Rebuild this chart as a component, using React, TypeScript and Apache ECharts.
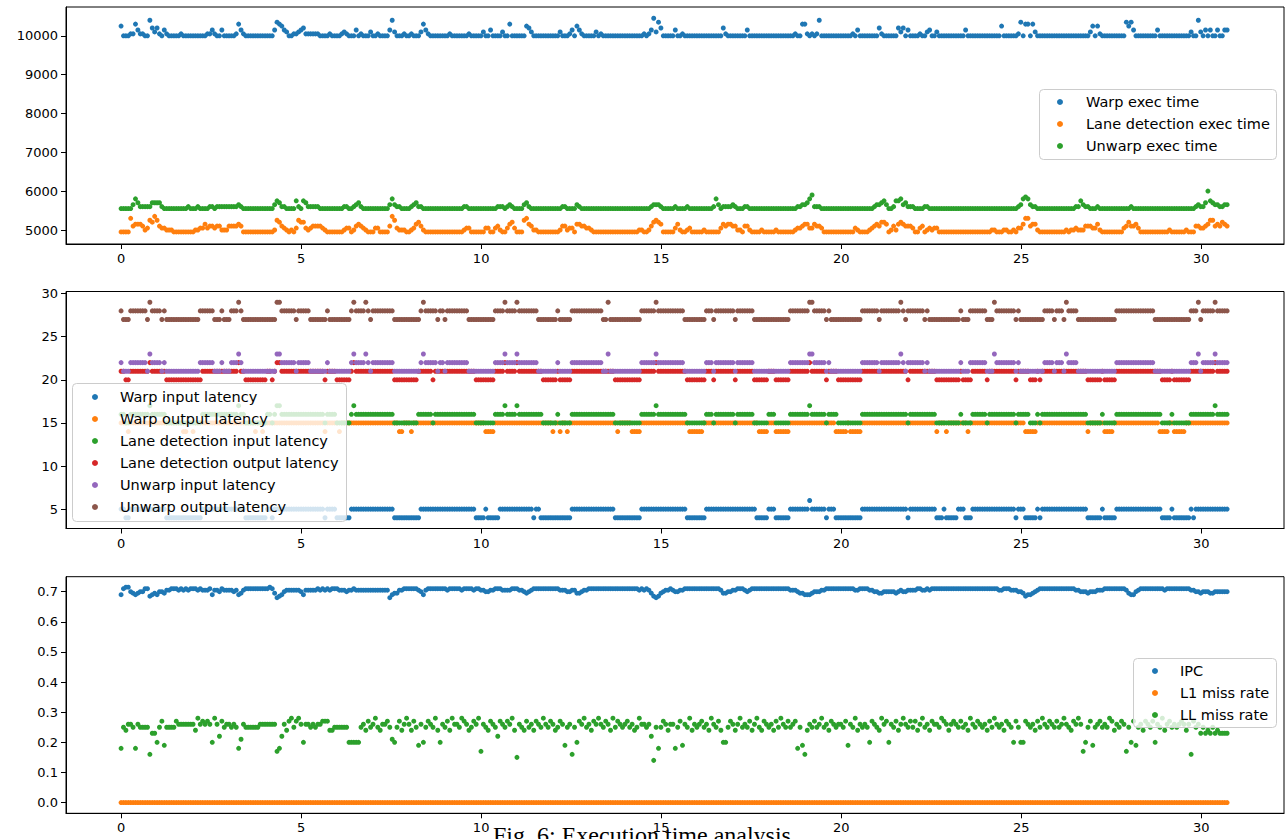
import React, { useEffect, useRef } from "react";
import * as echarts from "echarts";

// ---------- data ----------
// sample spacing along the x axis (one frame)
const FRAME_STEP = 30.72 / 461;

const X_TICKS = [0, 5, 10, 15, 20, 25, 30];
const EXEC_TICKS = [5000, 6000, 7000, 8000, 9000, 10000];
const LATENCY_TICKS = [5, 10, 15, 20, 25, 30];
const RATE_TICKS = [0, 0.1, 0.2, 0.3, 0.4, 0.5, 0.6, 0.7];

const EXEC_NAMES = ["Warp exec time", "Lane detection exec time", "Unwarp exec time"];
const LATENCY_NAMES = [
  "Warp input latency",
  "Warp output latency",
  "Lane detection input latency",
  "Lane detection output latency",
  "Unwarp input latency",
  "Unwarp output latency",
];
const RATE_NAMES = ["IPC", "L1 miss rate", "LL miss rate"];
const CAPTION = "Fig. 6: Execution time analysis";

// Exec times: one hex digit per frame, value = base + 50 * digit
const WARP_EXEC_CODE = [
  "5000116311", "0084241031", "0000010000", "0000001131", "0030000016", "3100000000", "0000376532", "0011234111",
  "1110000100", "0012100030", "1000200100", "0038200010", "0100026310", "0000000100", "0000010000", "0200300002",
  "0060000005", "4200000000", "0002000130", "5310000020", "1000000000", "0000000010", "1392740000", "0300100000",
  "0000000000", "0410000000", "0300000000", "0000000000", "0100661010", "1800000000", "0000010300", "0000004100",
  "0000424030", "0001002300", "2000000000", "0030000000", "0000000500", "0000170660", "6200000000", "0000000000",
  "0000250510", "0000000007", "5730000000", "0030000000", "0000002008", "2030300300", "33",
];
const LANE_EXEC_CODE = [
  "0000734443", "1265863221", "1100000000", "0112242332", "3311133334", "3000000000", "0000165321", "0102655212",
  "3333210000", "0001220134", "3210002200", "0038621110", "0124531000", "0000000000", "0001220000", "0022002310",
  "0245200067", "4311000000", "0001331220", "4433221000", "0000000000", "0000001100", "1356540000", "0241001200",
  "0001000000", "2434433110", "3310000100", "0001000000", "0122344224", "3320000000", "0000002100", "0012343554",
  "0131454333", "2002301212", "2000000000", "0000000000", "0001100011", "0010224773", "4410000000", "0000101121",
  "1133322410", "0000000023", "5334200000", "0000000100", "0000100033", "2234663435", "43",
];
const UNWARP_EXEC_CODE = [
  "0000025311", "1113333100", "0000000010", "0010000110", "1111111112", "1000000000", "0000243110", "0004104311",
  "1110000000", "0001100123", "1000000000", "0025211000", "0123110000", "0000000000", "0001100000", "0000000111",
  "0121000023", "1000000000", "0000110000", "2100000000", "0000000000", "0000000000", "0122210000", "0100001000",
  "0000000152", "0111121000", "1100000000", "0000000000", "0011223571", "1100000000", "0000000000", "0000122342",
  "0014452311", "1000011000", "0000000000", "0000000000", "0000000000", "0000125652", "1100000000", "0000000011",
  "4211000100", "0000000000", "0100000000", "0000000000", "0000000012", "1139432211", "22",
];

// Latencies: [value, number of consecutive frames]
const WARP_IN_RUNS = [
  [5, 2], [4, 2], [5, 15], [4, 15], [5, 18], [4, 9], [5, 2], [4, 1], [5, 21], [4, 1], [5, 4], [4, 6], [5, 18], [4, 11],
  [5, 23], [4, 4], [5, 1], [4, 5], [5, 14], [4, 1], [5, 2], [4, 13], [5, 18], [4, 11], [5, 19], [4, 8], [5, 21], [4, 5],
  [5, 3], [4, 6], [5, 8], [6, 1], [5, 6], [4, 1], [5, 3], [4, 11], [5, 19], [4, 1], [5, 11], [4, 3], [5, 1], [4, 5],
  [5, 3], [4, 3], [5, 18], [4, 1], [5, 3], [4, 5], [5, 1], [4, 1], [5, 19], [4, 6], [5, 1], [4, 5], [5, 19], [4, 4],
  [5, 1], [4, 7], [5, 1], [4, 1], [5, 14],
];
const WARP_OUT_RUNS = [
  [15, 3], [14, 1], [15, 22], [14, 2], [15, 2], [14, 1], [15, 25], [14, 1], [15, 2], [14, 1], [15, 25], [14, 1], [15, 5],
  [14, 1], [15, 24], [14, 2], [15, 3], [14, 1], [15, 30], [14, 4], [15, 24], [14, 1], [15, 2], [14, 1], [15, 2], [14, 1],
  [15, 20], [14, 1], [15, 5], [14, 4], [15, 20], [14, 6], [15, 23], [14, 4], [15, 3], [14, 6], [15, 19], [14, 5], [15, 1],
  [14, 5], [15, 31], [14, 1], [15, 3], [14, 1], [15, 8], [14, 1], [15, 23], [14, 5], [15, 21], [14, 1], [15, 6], [14, 4],
  [15, 19], [14, 4], [15, 2], [14, 5], [15, 18],
];
const LANE_IN_RUNS = [
  [16, 2], [15, 2], [16, 8], [17, 1], [16, 6], [15, 15], [16, 15], [17, 1], [16, 2], [15, 9], [16, 2], [15, 1], [16, 1],
  [17, 2], [16, 18], [15, 1], [16, 4], [15, 6], [16, 1], [17, 1], [16, 16], [15, 10], [16, 6], [15, 1], [16, 17], [15, 8],
  [16, 4], [17, 1], [16, 4], [17, 1], [16, 10], [15, 6], [16, 1], [15, 5], [16, 18], [15, 11], [16, 6], [17, 1], [16, 12],
  [15, 8], [16, 3], [15, 1], [16, 8], [15, 1], [16, 7], [15, 6], [16, 3], [15, 6], [16, 8], [17, 1], [16, 6], [15, 1],
  [16, 4], [15, 10], [16, 19], [15, 1], [16, 11], [15, 10], [16, 1], [15, 4], [16, 6], [15, 1], [16, 11], [15, 1], [16, 5],
  [15, 3], [16, 1], [15, 1], [16, 19], [15, 6], [16, 1], [15, 5], [16, 19], [15, 4], [16, 1], [15, 7], [16, 10], [17, 1],
  [16, 5],
];
const LANE_OUT_RUNS = [
  [21, 2], [20, 2], [21, 8], [22, 1], [21, 6], [20, 15], [21, 15], [22, 1], [21, 2], [20, 9], [21, 2], [20, 1], [21, 1],
  [22, 2], [21, 18], [20, 1], [21, 4], [20, 6], [21, 1], [22, 1], [21, 16], [20, 10], [21, 6], [20, 1], [21, 17], [20, 8],
  [21, 4], [22, 1], [21, 4], [22, 1], [21, 10], [20, 6], [21, 1], [20, 5], [21, 18], [20, 11], [21, 6], [22, 1], [21, 12],
  [20, 8], [21, 3], [20, 1], [21, 8], [20, 1], [21, 7], [20, 6], [21, 3], [20, 6], [21, 8], [22, 1], [21, 6], [20, 1],
  [21, 4], [20, 10], [21, 19], [20, 1], [21, 11], [20, 10], [21, 1], [20, 4], [21, 6], [20, 1], [21, 11], [20, 1], [21, 5],
  [20, 3], [21, 1], [20, 1], [21, 19], [20, 6], [21, 1], [20, 5], [21, 19], [20, 4], [21, 1], [20, 7], [21, 10], [22, 1],
  [21, 5],
];
const UNWARP_IN_RUNS = [
  [22, 1], [21, 3], [22, 7], [21, 1], [23, 1], [22, 4], [21, 1], [22, 1], [21, 14], [22, 6], [21, 3], [22, 1], [21, 3],
  [22, 3], [23, 1], [22, 1], [21, 14], [23, 2], [22, 6], [21, 1], [22, 5], [21, 7], [22, 1], [21, 9], [22, 1], [23, 1],
  [22, 4], [23, 1], [22, 1], [21, 1], [22, 9], [21, 11], [22, 1], [23, 1], [22, 5], [21, 1], [22, 2], [21, 1], [22, 9],
  [21, 11], [22, 4], [23, 1], [22, 4], [23, 1], [22, 8], [21, 8], [22, 1], [21, 5], [22, 13], [21, 2], [23, 1], [21, 13],
  [22, 6], [23, 1], [22, 11], [21, 9], [22, 3], [21, 1], [22, 8], [21, 1], [22, 7], [21, 15], [22, 8], [23, 2], [22, 5],
  [21, 1], [22, 1], [21, 13], [22, 7], [21, 1], [22, 8], [23, 1], [22, 1], [21, 1], [22, 7], [21, 1], [22, 1], [21, 13],
  [22, 1], [21, 3], [22, 7], [21, 3], [23, 1], [22, 8], [21, 1], [22, 1], [21, 10], [22, 4], [21, 1], [22, 3], [21, 1],
  [23, 1], [22, 4], [21, 16], [22, 16], [21, 15], [22, 3], [23, 1], [21, 1], [22, 5], [23, 1], [22, 5],
];
const UNWARP_OUT_RUNS = [
  [28, 1], [27, 3], [28, 7], [27, 1], [29, 1], [28, 4], [27, 1], [28, 1], [27, 14], [28, 6], [27, 3], [28, 1], [27, 3],
  [28, 3], [29, 1], [28, 1], [27, 14], [29, 2], [28, 6], [27, 1], [28, 5], [27, 7], [28, 1], [27, 9], [28, 1], [29, 1],
  [28, 4], [29, 1], [28, 1], [27, 1], [28, 9], [27, 11], [28, 1], [29, 1], [28, 5], [27, 1], [28, 2], [27, 1], [28, 9],
  [27, 11], [28, 4], [29, 1], [28, 4], [29, 1], [28, 8], [27, 8], [28, 1], [27, 5], [28, 13], [27, 2], [29, 1], [27, 13],
  [28, 6], [29, 1], [28, 11], [27, 9], [28, 3], [27, 1], [28, 8], [27, 1], [28, 7], [27, 15], [28, 8], [29, 2], [28, 5],
  [27, 1], [28, 1], [27, 13], [28, 7], [27, 1], [28, 8], [29, 1], [28, 1], [27, 1], [28, 7], [27, 1], [28, 1], [27, 13],
  [28, 1], [27, 3], [28, 7], [27, 3], [29, 1], [28, 8], [27, 1], [28, 1], [27, 10], [28, 4], [27, 1], [28, 3], [27, 1],
  [29, 1], [28, 4], [27, 16], [28, 16], [27, 15], [28, 3], [29, 1], [27, 1], [28, 5], [29, 1], [28, 5],
];

// IPC: value = 0.67 + 0.005 * digit
const IPC_CODE = [
  "4899654566", "8834546657", "7888787878", "8878777847", "7687777674", "5788888888", "8898523467", "7777764777",
  "7787878788", "8777677877", "7777777777", "7724557788", "8888764788", "8888887888", "8878888788", "7766778887",
  "7778887765", "6788888888", "8887776677", "5567788888", "8888888888", "8888887878", "7532356778", "7667788888",
  "8888888888", "7556677888", "7678888888", "8888888887", "7765544456", "6677888888", "8888887788", "8877665566",
  "6665676677", "7788778788", "8888888888", "8888888888", "8888887788", "8777665344", "5678888888", "8888888877",
  "6665666777", "8888888887", "5446788888", "8888878888", "8888887766", "5666556666", "66",
];
// L1 miss rate: [value, frames]
const L1_MISS_RUNS = [[0, 462]];
// LL miss rate: value = 0.14 + 0.01 * hexdigit
const LL_MISS_CODE = [
  "4baccb4cbb", "bb2996bd5b", "bbbdcccccc", "caecdcdc6e", "c8dbccbcb4", "7cbbbbbbcc", "ccccc348ca", "debdec6ccb",
  "cbccdddaab", "bbbbb66666", "bcadbcebac", "cdb76bdace", "cadb5c6bdc", "bea6cbdaec", "cbedcabdce", "3cbadcb8dc",
  "bdcea1cbad", "bcadcbecbd", "cabdc5bc2b", "6dcebcadce", "cbdcaebdcb", "cdbcabeccb", "c80b4bdcac", "c4bd5cbeac",
  "bcdbcaecbd", "a66bdcaceb", "cbdacebadc", "bcadbecbdb", "cd4b52acbd", "bcebcadcbc", "cbd5cbeacb", "cb6dcbaecd",
  "6cbdacecbd", "bdacebcadc", "cbedcacdcb", "dbcaecbdcb", "cadbecbcad", "cb6db66dcb", "cadbecbdcb", "dbcecbadce",
  "c36bd5bcdb", "cbedacbdc3", "b6d5bcadcb", "d6cbeacdbc", "bcdcac2dbc", "9b9a9b9a99", "99",
];

// ---------- decoding helpers ----------
const fromCode = (chunks: string[], base: number, step: number) =>
  chunks.join("").split("").map((ch) => +(base + step * parseInt(ch, 16)).toFixed(4));
const fromRuns = (r: number[][]) => r.flatMap(([v, n]) => Array.from({ length: n }, () => v));
const toPoints = (vals: number[]) => vals.map((v, i) => [i * FRAME_STEP, v]);

const COLORS = ["#1f77b4", "#ff7f0e", "#2ca02c", "#d62728", "#9467bd", "#8c564b"];
const FONT = "DejaVu Sans";

// legend box drawn as graphic (box x, y, width, height, marker x, text x, first row y)
const legendBox = (names: string[], x: number, y: number, w: number, h: number, mx: number, tx: number, ry: number) => ({
  type: "group",
  x,
  y,
  z: 50,
  silent: true,
  children: [
    {
      type: "rect",
      z: 50,
      shape: { x: 0.5, y: 0.5, width: w, height: h, r: 4 },
      style: { fill: "rgba(255,255,255,0.8)", stroke: "#cccccc", lineWidth: 1 },
    },
    ...names.map((_, k) => ({
      type: "circle",
      z: 51,
      shape: { cx: mx, cy: ry + 22 * k, r: 3 },
      style: { fill: COLORS[k] },
    })),
    ...names.map((n, k) => ({
      type: "text",
      z: 51,
      x: tx,
      y: ry + 22 * k,
      style: { text: n, font: `14.5px "${FONT}"`, fill: "#000", align: "left", verticalAlign: "middle" },
    })),
  ],
});

export default function App() {
  const ref = useRef<HTMLDivElement>(null);

  useEffect(() => {
    if (!ref.current) return;
    const chart = echarts.init(ref.current, undefined, { renderer: "svg" });

    const execSeries = [
      fromCode(WARP_EXEC_CODE, 10000, 50),
      fromCode(LANE_EXEC_CODE, 4960, 50),
      fromCode(UNWARP_EXEC_CODE, 5560, 50),
    ];
    const latencySeries = [
      fromRuns(WARP_IN_RUNS),
      fromRuns(WARP_OUT_RUNS),
      fromRuns(LANE_IN_RUNS),
      fromRuns(LANE_OUT_RUNS),
      fromRuns(UNWARP_IN_RUNS),
      fromRuns(UNWARP_OUT_RUNS),
    ];
    const rateSeries = [fromCode(IPC_CODE, 0.67, 0.005), fromRuns(L1_MISS_RUNS), fromCode(LL_MISS_CODE, 0.14, 0.01)];

    const grids = [
      { left: 66, top: 7, width: 1218, height: 237 },
      { left: 66, top: 291.5, width: 1218, height: 237 },
      { left: 66, top: 576.7, width: 1218, height: 236.6 },
    ].map((g) => ({ ...g, show: true, borderColor: "#000", borderWidth: 1, backgroundColor: "transparent" }));

    const xAxis = [0, 1, 2].map((gi) => ({
      type: "value",
      gridIndex: gi,
      min: -1.53,
      max: 32.3,
      axisLine: { show: true, onZero: false, lineStyle: { color: "#000", width: 1 } },
      axisTick: { show: true, length: 5, lineStyle: { color: "#000", width: 1 }, customValues: X_TICKS },
      axisLabel: {
        customValues: X_TICKS,
        color: "#000",
        fontSize: 13,
        fontFamily: FONT,
        margin: 8,
        formatter: (v: number) => String(v),
      },
      splitLine: { show: false },
    }));

    const yDefs = [
      { min: 4650, max: 10740, ticks: EXEC_TICKS, fmt: (v: number) => String(v) },
      { min: 2.75, max: 30.25, ticks: LATENCY_TICKS, fmt: (v: number) => String(v) },
      { min: -0.0357, max: 0.7497, ticks: RATE_TICKS, fmt: (v: number) => v.toFixed(1) },
    ];
    const yAxis = yDefs.map((d, gi) => ({
      type: "value",
      gridIndex: gi,
      min: d.min,
      max: d.max,
      axisLine: { show: true, onZero: false, lineStyle: { color: "#000", width: 1 } },
      axisTick: { show: true, length: 5, lineStyle: { color: "#000", width: 1 }, customValues: d.ticks },
      axisLabel: { customValues: d.ticks, color: "#000", fontSize: 13, fontFamily: FONT, margin: 8, formatter: d.fmt },
      splitLine: { show: false },
    }));

    const mk = (name: string, vals: number[], color: string, gi: number) => ({
      type: "scatter",
      name,
      xAxisIndex: gi,
      yAxisIndex: gi,
      data: toPoints(vals),
      symbol: "circle",
      symbolSize: 5,
      itemStyle: { color, opacity: 1 },
      emphasis: { disabled: true },
      silent: true,
    });

    const series = [
      ...EXEC_NAMES.map((n, k) => mk(n, execSeries[k], COLORS[k], 0)),
      ...LATENCY_NAMES.map((n, k) => mk(n, latencySeries[k], COLORS[k], 1)),
      ...RATE_NAMES.map((n, k) => mk(n, rateSeries[k], COLORS[k], 2)),
    ];

    chart.setOption({
      animation: false,
      backgroundColor: "#fff",
      grid: grids,
      xAxis,
      yAxis,
      series,
      graphic: [
        legendBox(EXEC_NAMES, 1039, 89, 237, 70, 21, 47, 13),
        legendBox(LATENCY_NAMES, 72, 383, 274, 138, 23, 48, 14),
        legendBox(RATE_NAMES, 1133, 658, 143, 69, 22, 47, 13),
        {
          type: "text",
          x: 493,
          y: 823,
          z: 0,
          silent: true,
          style: { text: CAPTION, font: '24px "Liberation Serif"', fill: "#000", align: "left", verticalAlign: "top" },
        },
      ],
    });

    return () => chart.dispose();
  }, []);

  return <div ref={ref} style={{ position: "absolute", left: 0, top: 0, width: 1285, height: 839 }} />;
}
